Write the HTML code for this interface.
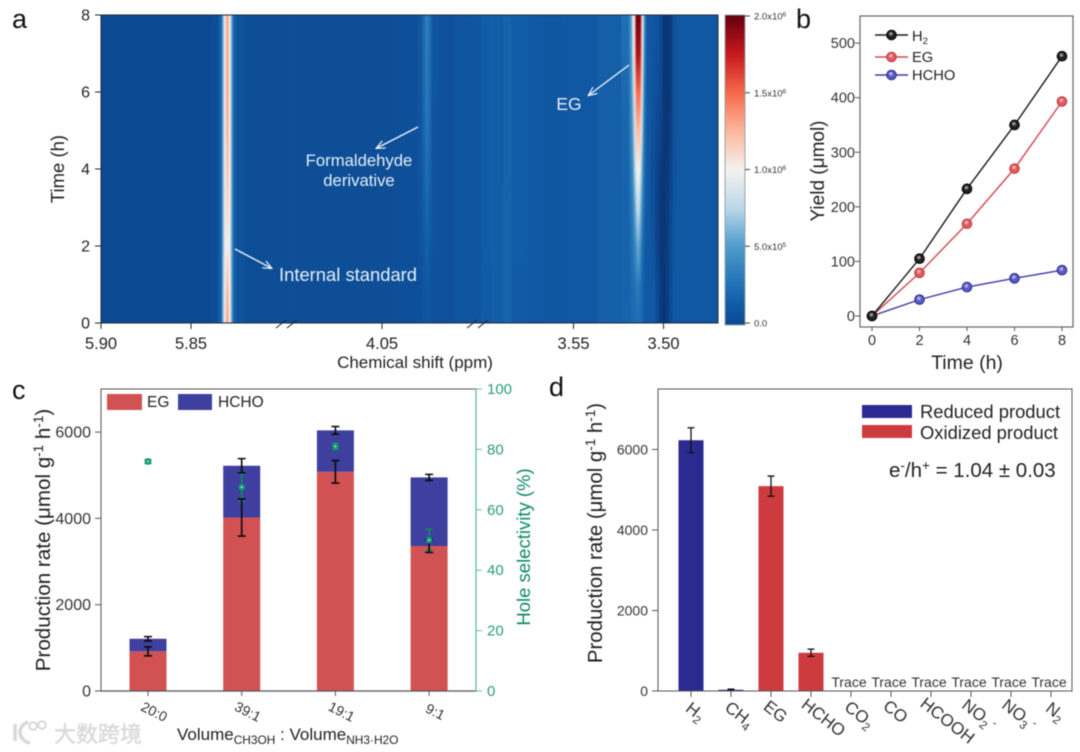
<!DOCTYPE html>
<html lang="en">
<head>
<meta charset="utf-8">
<title>Photocatalytic production charts</title>
<style>
html,body{margin:0;padding:0;background:#fff;}
svg{display:block;font-family:"Liberation Sans","Noto Sans CJK SC",sans-serif;filter:blur(0.4px);}
</style>
</head>
<body>
<svg id="fig" xmlns="http://www.w3.org/2000/svg" width="1080" height="752" viewBox="0 0 1080 752">
<defs id="defs">
  <clipPath id="heat-clip"><rect x="101" y="15" width="617" height="308"/></clipPath>
  <filter id="heat-blur" filterUnits="userSpaceOnUse" x="90" y="5" width="640" height="330" color-interpolation-filters="sRGB"><feGaussianBlur stdDeviation="0.6 0"/></filter>
  <marker id="arrow-head" markerWidth="10" markerHeight="10" refX="8" refY="4" orient="auto" markerUnits="userSpaceOnUse"><path d="M0,0 L9,4 L0,8" fill="none" stroke="#eef4fa" stroke-width="1.2"/></marker>
</defs>
<rect width="1080" height="752" fill="#fff"/>

<text x="12" y="28" font-size="27" fill="#111">a</text>
<text x="796" y="28" font-size="27" fill="#111">b</text>
<text x="12" y="399" font-size="27" fill="#111">c</text>
<text x="549" y="396" font-size="27" fill="#111">d</text>

<!-- Panel a -->
<g id="panel-a">
  <g clip-path="url(#heat-clip)"><g id="heat-cells" filter="url(#heat-blur)"></g></g>
  <rect x="101" y="15" width="617" height="308" fill="none" stroke="#1c2a3a" stroke-width="1"/>
  <g id="a-axes"></g>
  <g stroke="#222" stroke-width="1">
    <path d="M276,328 L286,320 M287,328 L297,320" fill="none"/>
    <path d="M467,328 L477,320 M478,328 L488,320" fill="none"/>
  </g>
  <text x="64" y="169" font-size="18.5" fill="#222" text-anchor="middle" transform="rotate(-90 64 169)">Time (h)</text>
  <text x="415" y="368" font-size="17" fill="#222" text-anchor="middle">Chemical shift (ppm)</text>
  <g stroke="#eef4fa" stroke-width="1.4" fill="none">
    <line x1="235" y1="249" x2="271" y2="268" marker-end="url(#arrow-head)"/>
    <line x1="418" y1="127" x2="377" y2="148" marker-end="url(#arrow-head)"/>
    <line x1="629" y1="65" x2="589" y2="95" marker-end="url(#arrow-head)"/>
  </g>
  <g fill="#e4edf6">
    <text x="279" y="281" font-size="18.4">Internal standard</text>
    <text x="359" y="166" text-anchor="middle" font-size="16.7">Formaldehyde</text>
    <text x="359" y="186" text-anchor="middle" font-size="16.7">derivative</text>
    <text x="569" y="110" text-anchor="middle" font-size="17.5">EG</text>
  </g>
  <rect id="colorbar" x="725" y="15" width="20" height="310" stroke="#9aa3ad" stroke-width="1"/>
  <g id="cb-axis"></g>
</g>

<!-- Panel b -->
<g id="panel-b">
  <rect x="860" y="16" width="213" height="311" fill="none" stroke="#666" stroke-width="1.2"/>
  <g id="b-axes"></g>
  <g id="b-series"></g>
  <text x="824" y="171" font-size="19" fill="#222" text-anchor="middle" transform="rotate(-90 824 171)">Yield (μmol)</text>
  <text x="967" y="369" font-size="19.5" fill="#222" text-anchor="middle">Time (h)</text>
  <g font-size="14.7" fill="#222">
    <text x="912" y="41">H<tspan font-size="9.5" dy="3">2</tspan></text>
    <text x="912" y="62">EG</text>
    <text x="912" y="80">HCHO</text>
  </g>
</g>

<!-- Panel c -->
<g id="panel-c">
  <g id="c-bars"></g>
  <path d="M101,691 L101,389 L476,389" fill="none" stroke="#555" stroke-width="1"/>
  <line x1="101" y1="691" x2="476" y2="691" stroke="#555" stroke-width="1.2"/>
  <line x1="476" y1="389" x2="476" y2="691" stroke="#6cc0a4" stroke-width="1.4"/>
  <g id="c-axes"></g>
  <text x="50" y="540" font-size="20.6" fill="#222" text-anchor="middle" transform="rotate(-90 50 540)">Production rate (μmol g<tspan font-size="13.5" dy="-7">-1</tspan><tspan dy="7"> h</tspan><tspan font-size="13.5" dy="-7">-1</tspan><tspan dy="7">)</tspan></text>
  <text x="530" y="547" font-size="18.5" fill="#0f8a66" text-anchor="middle" transform="rotate(-90 530 547)">Hole selectivity (%)</text>
  <text x="177" y="740" font-size="17" fill="#222">Volume<tspan font-size="11.9" dy="4">CH3OH</tspan><tspan dy="-4"> : Volume</tspan><tspan font-size="11.9" dy="4">NH3·H2O</tspan></text>
  <g>
    <rect x="107" y="394" width="35" height="16" fill="#d25253"/>
    <text x="147" y="407" font-size="15.5" fill="#222">EG</text>
    <rect x="178" y="394" width="34" height="16" fill="#3f3f9f"/>
    <text x="218" y="407" font-size="15.5" fill="#222">HCHO</text>
  </g>
</g>

<!-- Panel d -->
<g id="panel-d">
  <g id="d-bars"></g>
  <rect x="658" y="389" width="414" height="302" fill="none" stroke="#555" stroke-width="1"/>
  <g id="d-axes"></g>
  <text x="602" y="533" font-size="20.4" fill="#222" text-anchor="middle" transform="rotate(-90 602 533)">Production rate (μmol g<tspan font-size="13.5" dy="-7">-1</tspan><tspan dy="7"> h</tspan><tspan font-size="13.5" dy="-7">-1</tspan><tspan dy="7">)</tspan></text>
  <g>
    <rect x="862" y="405" width="50" height="13" fill="#2b2a91"/>
    <text x="920" y="418" font-size="18.4" fill="#222">Reduced product</text>
    <rect x="862" y="425" width="50" height="13" fill="#cd3b3f"/>
    <text x="920" y="439" font-size="18.4" fill="#222">Oxidized product</text>
  </g>
  <text x="889" y="477" font-size="20.5" fill="#222">e<tspan font-size="13.5" dy="-7">-</tspan><tspan dy="7">/h</tspan><tspan font-size="13.5" dy="-7">+</tspan><tspan dy="7"> = 1.04 ± 0.03</tspan></text>
</g>

<!-- Watermark -->
<g>
  <g fill="none" stroke="#d8d8d8" stroke-width="3.5">
    <path d="M15,724 L15,741 M28,722 C17,726 17,740 30,743"/>
    <circle cx="33" cy="726" r="3.8" stroke-width="2"/>
    <circle cx="42" cy="725" r="3.8" stroke-width="2"/>
  </g>
  <text x="54" y="742" font-size="22" fill="#d8d8d8" stroke="#dcdcdc" stroke-width=".5">大数跨境</text>
</g>

<script>
// ---------- Panel a data ----------
const heatTimes = [0,1,2,3,4,5,6,7,8];
const heatShifts = [
 5.905,5.873,5.842,5.836,5.8339,5.8328,5.8319,5.8311,5.8306,5.8300,5.8294,5.8286,5.8281,5.8272,5.8261,5.8239,5.8172,5.7960,
 4.0956,4.0511,4.0317,4.0283,4.0267,4.0250,4.0233,4.0217,4.0150,4.0039,3.9983,
 3.6019,3.5997,3.5908,3.5869,3.5825,3.5686,3.5658,3.5464,3.5269,3.5197,
 3.5181,3.5169,3.5161,3.5153,3.5144,3.5136,3.5128,3.5119,3.5111,3.5103,3.5086,3.5058,3.5031,3.5014,3.4997,3.4975,3.4958,3.4942,3.4908,3.4600
];
const heatValues = [
 [0,0,0,0,0,0,0,0,0],
 [0,0,0,0,0,0,0,0,0],
 [0,0,0,0,0,0,0,0,0],
 [.02,.02,.02,.02,.02,.02,.02,.02,.02],
 [.1,.1,.1,.1,.1,.1,.1,.1,.1],
 [.3,.3,.3,.3,.3,.3,.3,.3,.3],
 [.72,.72,.7,.7,.7,.7,.7,.7,.7],
 [1,1,.95,.98,1,1,1,1,1],
 [1.12,1.08,1,1.05,1.08,1.1,1.12,1.12,1.12],
 [1.38,1.28,1.02,1.15,1.25,1.32,1.38,1.38,1.38],
 [1.28,1.18,1.02,1.1,1.18,1.24,1.28,1.28,1.28],
 [1.02,1,.97,1,1,1,1,1,1],
 [.88,.88,.85,.86,.88,.88,.88,.88,.88],
 [.45,.45,.45,.45,.45,.45,.45,.45,.45],
 [.14,.14,.14,.14,.14,.14,.14,.14,.14],
 [.06,.06,.06,.06,.06,.06,.06,.06,.06],
 [.02,.02,.02,.02,.02,.02,.02,.02,.02],
 [.03,.03,.03,.03,.03,.03,.03,.03,.03],
 [.03,.03,.03,.03,.03,.03,.03,.03,.03],
 [.03,.03,.03,.03,.03,.03,.03,.03,.03],
 [.04,.04,.04,.04,.04,.04,.04,.04,.04],
 [.04,.05,.06,.07,.08,.08,.09,.09,.09],
 [.06,.08,.1,.13,.16,.18,.2,.21,.22],
 [.08,.1,.14,.18,.22,.26,.29,.31,.33],
 [.06,.08,.1,.13,.16,.18,.2,.21,.22],
 [.05,.05,.06,.06,.07,.07,.08,.08,.08],
 [.05,.05,.05,.05,.05,.05,.05,.05,.05],
 [.07,.07,.07,.07,.07,.07,.07,.07,.07],
 [.08,.08,.08,.08,.08,.08,.08,.08,.08],
 [.08,.08,.08,.08,.08,.08,.08,.08,.08],
 [.12,.12,.13,.13,.13,.13,.13,.13,.13],
 [.13,.13,.13,.13,.13,.13,.13,.13,.13],
 [.17,.17,.17,.17,.16,.16,.16,.16,.16],
 [.12,.12,.13,.13,.13,.13,.13,.13,.13],
 [.1,.1,.1,.1,.1,.1,.1,.1,.1],
 [.09,.09,.09,.09,.09,.09,.09,.09,.09],
 [.1,.1,.1,.1,.1,.1,.1,.1,.1],
 [.14,.14,.14,.14,.14,.14,.14,.14,.14],
 [.16,.16,.16,.16,.17,.18,.2,.22,.24],
 [.18,.2,.22,.25,.3,.35,.4,.45,.5],
 [.2,.22,.28,.35,.45,.55,.65,.78,.9],
 [.2,.25,.35,.5,.7,.85,.97,1.02,1.02],
 [.2,.28,.45,.68,.92,1.15,1.38,1.7,1.88],
 [.22,.3,.55,.8,1,1.25,1.52,1.88,2],
 [.22,.3,.55,.8,1,1.25,1.52,1.85,2],
 [.2,.25,.42,.62,.88,1.1,1.38,1.7,1.9],
 [.18,.2,.26,.42,.58,.75,.95,1.02,1.08],
 [.14,.15,.18,.25,.32,.42,.55,.65,.75],
 [.1,.1,.12,.15,.18,.2,.22,.25,.25],
 [.1,.1,.1,.1,.1,.1,.1,.1,.1],
 [.1,.1,.06,.04,.03,.05,.07,.08,.09],
 [.02,0,-.05,-.06,-.05,0,.03,.05,.07],
 [-.12,-.12,-.15,-.15,-.12,-.05,-.02,0,0],
 [-.18,-.16,-.15,-.15,-.15,-.15,-.15,-.15,-.15],
 [-.1,-.08,-.08,-.1,-.12,-.15,-.15,-.15,-.15],
 [.02,.02,0,0,-.05,-.08,-.1,-.1,-.1],
 [.08,.08,.08,.08,.07,.06,.06,.06,.06],
 [.1,.1,.1,.1,.1,.1,.1,.1,.1],
 [.1,.1,.1,.1,.1,.1,.1,.1,.1]
];
const heatXTicks = ['5.90','5.85','4.05','3.55','3.50'];
const heatYTicks = [0,2,4,6,8];
const colorbarTicks = [0,0.5,1,1.5,2];
const colorbarTickLabels = [['0.0',''],['5.0x10','5'],['1.0x10','6'],['1.5x10','6'],['2.0x10','6']];

// ---------- Panel b data ----------
const yieldTimes = [0,2,4,6,8];
const yieldH2 = [0,105,233,350,476];
const yieldEG = [0,79,169,270,393];
const yieldHCHO = [0,30,53,69,84];
const yieldYTicks = [0,100,200,300,400,500];

// ---------- Panel c data ----------
const ratioCategories = ['20:0','39:1','19:1','9:1'];
const ratioEG = [920,4020,5080,3360];
const ratioHCHO = [290,1200,960,1590];
const ratioEGErr = [105,430,260,150];
const ratioTotalErr = [50,165,90,70];
const ratioSelectivity = [76,67.5,81,50];
const ratioSelectivityErr = [0.6,4.5,1,3.5];
const ratioYTicks = [0,2000,4000,6000];
const ratioRightTicks = [0,20,40,60,80,100];

// ---------- Panel d data ----------
const productNames = ['H2','CH4','EG','HCHO','CO2','CO','HCOOH','NO2','NO3','N2'];
const productValues = [6230,30,5090,950,0,0,0,0,0,0];
const productErrors = [310,15,250,90,0,0,0,0,0,0];
const productKinds = ['reduced','reduced','oxidized','oxidized','','','','','',''];
const productTraceFlags = [0,0,0,0,1,1,1,1,1,1];
const productYTicks = [0,2000,4000,6000];

// ---------- Helpers ----------
const NS = 'http://www.w3.org/2000/svg';
function mk(parent, tag, attrs, txt){
  const n = document.createElementNS(NS, tag);
  for (const k in attrs) n.setAttribute(k, attrs[k]);
  if (txt !== undefined) n.textContent = txt;
  parent.appendChild(n);
  return n;
}
function slug(s){ return String(s).toLowerCase().replace(/[^a-z0-9]+/g,'-'); }
function subs(parent, label, size){
  // digits are rendered as subscripts in a chemical formula
  const parts = label.match(/[A-Za-z]+|[0-9]+/g);
  let down = false;
  parts.forEach(function(p){
    const isNum = /^[0-9]+$/.test(p);
    const a = {};
    if (isNum) { a['font-size'] = size * 0.68; a['dy'] = 4; down = true; }
    else if (down) { a['dy'] = -4; a['font-size'] = size; down = false; }
    mk(parent, 'tspan', a, p);
  });
}

// ---------- Panel a ----------
const colorStops = [[-0.18,'#0a3272'],[0,'#0b4a92'],[0.12,'#115ba6'],[0.25,'#2272b6'],[0.5,'#4f9ccb'],[0.75,'#bcd8ea'],[1,'#f6f2ef'],[1.25,'#fbb79d'],[1.5,'#f8694a'],[1.75,'#c6191f'],[2,'#67000d']];
function hex(c){ return [1,3,5].map(function(i){ return parseInt(c.substr(i,2),16); }); }
function colorFor(v){
  if (v <= colorStops[0][0]) return colorStops[0][1];
  for (let i = 1; i < colorStops.length; i++){
    if (v <= colorStops[i][0]){
      const a = colorStops[i-1], b = colorStops[i], t = (v-a[0])/(b[0]-a[0]);
      const ca = hex(a[1]), cb = hex(b[1]);
      return 'rgb(' + ca.map(function(x,j){ return Math.round(x+(cb[j]-x)*t); }).join(',') + ')';
    }
  }
  return colorStops[colorStops.length-1][1];
}
function ppmX(p){
  if (p >= 5) return 101 + (5.9 - p) * 1800;
  if (p >= 3.8) return 382 + (4.05 - p) * 1800;
  return 573.5 + (3.55 - p) * 1800;
}
function timeY(t){ return 323 - t * 38.5; }
function cbY(v){ return 323 - v * 153.5; }

const defs = document.getElementById('defs');
const heatG = document.getElementById('heat-cells');
heatShifts.forEach(function(p, i){
  const gid = 'heat-col-' + i;
  const g = mk(defs, 'linearGradient', {id: gid, gradientUnits: 'userSpaceOnUse', x1: 0, x2: 0, y1: timeY(0), y2: timeY(heatTimes[heatTimes.length-1])});
  heatTimes.forEach(function(t, r){
    mk(g, 'stop', {offset: r / (heatTimes.length-1), 'stop-color': colorFor(heatValues[i][r])});
  });
  const x = ppmX(p);
  const left = i === 0 ? x - 6 : (ppmX(heatShifts[i-1]) + x) / 2;
  const right = i === heatShifts.length-1 ? x + 6 : (ppmX(heatShifts[i+1]) + x) / 2;
  const cell = mk(heatG, 'rect', {x: left, y: 10, width: right - left + 0.3, height: 318, fill: 'url(#' + gid + ')'});
  
  
});

const aAxes = document.getElementById('a-axes');
heatXTicks.forEach(function(t){
  const x = ppmX(parseFloat(t));
  const tick = mk(aAxes, 'line', {x1: x, x2: x, y1: 323, y2: 329, stroke: '#222'});
  
  
  const lab = mk(aAxes, 'text', {x: x, y: 349, 'font-size': 16.5, fill: '#222', 'text-anchor': 'middle'}, t);
  
  
});
heatYTicks.forEach(function(t){
  const y = timeY(t);
  const tick = mk(aAxes, 'line', {x1: 95, x2: 101, y1: y, y2: y, stroke: '#222'});
  
  
  const lab = mk(aAxes, 'text', {x: 90, y: y + 5.5, 'font-size': 16, fill: '#222', 'text-anchor': 'end'}, t);
  
  
});

const cbGrad = mk(defs, 'linearGradient', {id: 'cb-grad', gradientUnits: 'userSpaceOnUse', x1: 0, x2: 0, y1: cbY(0), y2: cbY(2)});
colorStops.filter(function(s){ return s[0] >= 0; }).forEach(function(s){
  mk(cbGrad, 'stop', {offset: s[0] / 2, 'stop-color': s[1]});
});
document.getElementById('colorbar').setAttribute('fill', 'url(#cb-grad)');
const cbAxis = document.getElementById('cb-axis');
colorbarTicks.forEach(function(v, i){
  const y = cbY(v);
  const tick = mk(cbAxis, 'line', {x1: 745, x2: 750, y1: y, y2: y, stroke: '#444'});
  
  
  const lab = mk(cbAxis, 'text', {x: 754, y: y + 3.5, 'font-size': 9.5, fill: '#333'}, colorbarTickLabels[i][0]);
  
  
  if (colorbarTickLabels[i][1]) mk(lab, 'tspan', {'font-size': 6.5, dy: -3}, colorbarTickLabels[i][1]);
});

// ---------- Panel b ----------
function bX(t){ return 872 + t * 23.75; }
function bY(v){ return 316 - v * 0.5458; }
const bAxes = document.getElementById('b-axes');
yieldYTicks.forEach(function(v){
  const y = bY(v);
  const tick = mk(bAxes, 'line', {x1: 855, x2: 860, y1: y, y2: y, stroke: '#555'});
  
  
  const lab = mk(bAxes, 'text', {x: 855, y: y + 5, 'font-size': 14.5, fill: '#333', 'text-anchor': 'end'}, v);
  
  
});
yieldTimes.forEach(function(t){
  const x = bX(t);
  const tick = mk(bAxes, 'line', {x1: x, x2: x, y1: 327, y2: 331, stroke: '#555'});
  
  
  const lab = mk(bAxes, 'text', {x: x, y: 345, 'font-size': 14.5, fill: '#333', 'text-anchor': 'middle'}, t);
  
  
});
const bSeries = document.getElementById('b-series');
function drawMarker(x, y, fill, edge){
  const c = mk(bSeries, 'circle', {cx: x, cy: y, r: 4.8, fill: fill, stroke: edge, 'stroke-width': 1});
  
  
  const h = mk(bSeries, 'circle', {cx: x - 0.6, cy: y - 1.2, r: 1.8, fill: '#fff', opacity: 0.5});
  
  
}
[[yieldHCHO,'#3a3aa6','#5a5ac4','#2b2b90',75],[yieldEG,'#cf4a50','#e05a5e','#c23a40',57],[yieldH2,'#1a1a1a','#222','#000',35]].forEach(function(s){
  const pts = yieldTimes.map(function(t, i){ return bX(t) + ',' + bY(s[0][i]); }).join(' ');
  const line = mk(bSeries, 'polyline', {points: pts, fill: 'none', stroke: s[1], 'stroke-width': 1.4});
  
  
  yieldTimes.forEach(function(t, i){ drawMarker(bX(t), bY(s[0][i]), s[2], s[3]); });
  const leg = mk(bSeries, 'line', {x1: 875, x2: 908, y1: s[4], y2: s[4], stroke: s[1], 'stroke-width': 1.4});
  
  
  drawMarker(891.5, s[4], s[2], s[3]);
});

// ---------- Panel c ----------
function cX(i){ return 148 + i * 93.7; }
function cY(v){ return 691 - v * 0.04315; }
function cRight(v){ return 691 - v * 3.02; }
function errBar(parent, x, y1, y2, cap, color, width){
  const d = 'M' + x + ',' + y1 + ' L' + x + ',' + y2 + ' M' + (x-cap) + ',' + y1 + ' L' + (x+cap) + ',' + y1 + ' M' + (x-cap) + ',' + y2 + ' L' + (x+cap) + ',' + y2;
  return mk(parent, 'path', {d: d, fill: 'none', stroke: color, 'stroke-width': width});
}
const cBars = document.getElementById('c-bars');
ratioCategories.forEach(function(cat, i){
  const x = cX(i), w = 37;
  const eg = mk(cBars, 'rect', {x: x - w/2, y: cY(ratioEG[i]), width: w, height: 691 - cY(ratioEG[i]), fill: '#d25253'});
  
  
  const total = ratioEG[i] + ratioHCHO[i];
  const hc = mk(cBars, 'rect', {x: x - w/2, y: cY(total), width: w, height: cY(ratioEG[i]) - cY(total), fill: '#3f3f9f'});
  
  
});
ratioCategories.forEach(function(cat, i){
  const x = cX(i);
  const total = ratioEG[i] + ratioHCHO[i];
  const sb = errBar(cBars, x, cRight(ratioSelectivity[i] + ratioSelectivityErr[i]), cRight(ratioSelectivity[i] - ratioSelectivityErr[i]), 3.5, '#0f8a66', 1.6);
  
  
  const e1 = errBar(cBars, x, cY(ratioEG[i] + ratioEGErr[i]), cY(ratioEG[i] - ratioEGErr[i]), 4, '#0a0a0a', 1.6);
  
  
  const e2 = errBar(cBars, x, cY(total + ratioTotalErr[i]), cY(total - ratioTotalErr[i]), 4, '#0a0a0a', 1.6);
  
  
  const pt = mk(cBars, 'circle', {cx: x, cy: cRight(ratioSelectivity[i]), r: 3.3, fill: '#0f9a72'});
  
  
  const ptc = mk(cBars, 'circle', {cx: x, cy: cRight(ratioSelectivity[i]), r: 0.9, fill: '#e8fbf4'});
  
  
});
const cAxes = document.getElementById('c-axes');
ratioYTicks.forEach(function(v){
  const y = cY(v);
  const tick = mk(cAxes, 'line', {x1: 95, x2: 101, y1: y, y2: y, stroke: '#555'});
  
  
  const lab = mk(cAxes, 'text', {x: 91, y: y + 5.5, 'font-size': 16, fill: '#333', 'text-anchor': 'end'}, v);
  
  
});
ratioRightTicks.forEach(function(v){
  const y = cRight(v);
  const tick = mk(cAxes, 'line', {x1: 476, x2: 482, y1: y, y2: y, stroke: '#6cc0a4'});
  
  
  const lab = mk(cAxes, 'text', {x: 487, y: y + 5, 'font-size': 15, fill: '#2a9e7c'}, v);
  
  
});
ratioCategories.forEach(function(cat, i){
  const x = cX(i);
  const tick = mk(cAxes, 'line', {x1: x, x2: x, y1: 691, y2: 696, stroke: '#555'});
  
  
  const lx = x + 4, ly = 716;
  const lab = mk(cAxes, 'text', {x: lx, y: ly, 'font-size': 14, fill: '#333', 'text-anchor': 'middle', transform: 'rotate(27 ' + lx + ' ' + ly + ')'}, cat);
  
  
});

// ---------- Panel d ----------
function dX(i){ return 691 + i * 40; }
function dY(v){ return 691 - v * 0.04025; }
const dBars = document.getElementById('d-bars');
const dAxes = document.getElementById('d-axes');
productNames.forEach(function(name, i){
  const x = dX(i), w = 25;
  if (productKinds[i]) {
    const b = mk(dBars, 'rect', {x: x - w/2, y: dY(productValues[i]), width: w, height: 691 - dY(productValues[i]), fill: productKinds[i] === 'reduced' ? '#2b2a91' : '#cd3b3f'});
    
    
    const e = errBar(dBars, x, dY(productValues[i] + productErrors[i]), dY(productValues[i] - productErrors[i]), 3.5, '#111', 1.3);
    
    
  }
  const tick = mk(dAxes, 'line', {x1: x, x2: x, y1: 691, y2: 697, stroke: '#555'});
  
  
  const len = name.length;
  const lx = x + 4 * len - 7, ly = 716 + (len - 2) * 3;
  const lab = mk(dAxes, 'text', {x: lx, y: ly, 'font-size': 17, fill: '#333', 'text-anchor': 'middle', transform: 'rotate(38 ' + lx + ' ' + ly + ')'});
  
  
  subs(lab, name, 17);
  if (name === 'NO2' || name === 'NO3') mk(lab, 'tspan', {dy: -9, 'font-size': 11}, ' -');
  if (productTraceFlags[i]) {
    const tr = mk(dAxes, 'text', {x: x - 2, y: 687, 'font-size': 14, fill: '#333', 'text-anchor': 'middle'}, 'Trace');
    
    
  }
});
productYTicks.forEach(function(v){
  const y = dY(v);
  const tick = mk(dAxes, 'line', {x1: 652, x2: 658, y1: y, y2: y, stroke: '#555'});
  
  
  const lab = mk(dAxes, 'text', {x: 648, y: y + 5, 'font-size': 14, fill: '#333', 'text-anchor': 'end'}, v);
  
  
});
</script>
</svg>
</body>
</html>
